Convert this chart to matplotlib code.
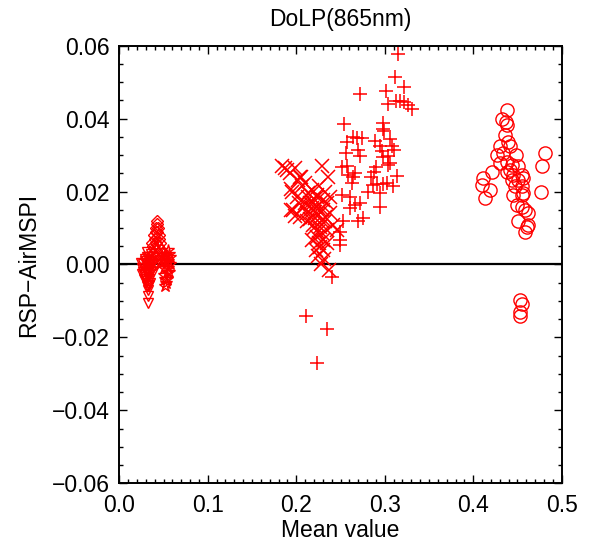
import numpy as np
import matplotlib.pyplot as plt
from matplotlib.ticker import MultipleLocator

plt.rcParams['font.family'] = ['Liberation Sans', 'DejaVu Sans']

# left cluster (low DoLP): triangles, diamonds, stars
tri_x = [0.027, 0.028, 0.029, 0.030, 0.031, 0.032, 0.033, 0.034, 0.035, 0.036,
         0.028, 0.030, 0.032, 0.034, 0.036, 0.029, 0.031, 0.033, 0.035, 0.030,
         0.032, 0.034, 0.033, 0.0327, 0.0327, 0.031, 0.033, 0.026, 0.027, 0.029,
         0.025, 0.026, 0.028, 0.030, 0.032, 0.034, 0.037, 0.038, 0.036, 0.031]
tri_y = [0.000, -0.001, 0.001, -0.002, 0.002, -0.003, 0.000, -0.004, -0.001, 0.001,
         -0.003, 0.000, -0.005, 0.002, -0.002, -0.004, -0.006, -0.002, -0.005, 0.001,
         0.002, -0.003, -0.007, -0.0086, -0.0105, -0.001, -0.006, -0.001, -0.002, 0.0015,
         0.0005, -0.0025, -0.004, -0.0045, -0.0015, -0.0055, 0.0, -0.002, 0.003, 0.0035]

dia_x = [0.036, 0.037, 0.038, 0.039, 0.040, 0.041, 0.042, 0.043, 0.044, 0.045,
         0.046, 0.047, 0.038, 0.040, 0.042, 0.044, 0.046, 0.039, 0.041, 0.043,
         0.045, 0.040, 0.042, 0.044, 0.043, 0.041, 0.037, 0.039, 0.048]
dia_y = [0.001, 0.003, 0.005, 0.002, 0.007, 0.004, 0.009, 0.012, 0.010, 0.008,
         0.006, 0.004, 0.000, 0.002, 0.006, 0.003, 0.001, 0.008, 0.010, 0.011,
         0.007, 0.000, 0.001, 0.005, 0.009, 0.006, 0.006, 0.0045, 0.002]

star_x = [0.050, 0.051, 0.052, 0.053, 0.054, 0.055, 0.056, 0.057, 0.050, 0.052,
          0.054, 0.056, 0.051, 0.053, 0.055, 0.052, 0.053, 0.054, 0.057, 0.055]
star_y = [0.002, -0.001, 0.003, 0.000, -0.002, 0.001, 0.003, 0.000, -0.003, -0.004,
          0.002, -0.002, 0.001, -0.005, -0.001, -0.006, 0.0025, -0.004, 0.002, 0.004]

# middle cluster: crosses (x) and plus signs
xs_x = [0.1872, 0.1985, 0.2287, 0.2362, 0.2042, 0.1948, 0.2098, 0.2174, 0.2230, 0.2305,
        0.2381, 0.1966, 0.2079, 0.2155, 0.2230, 0.2305, 0.2381, 0.2117, 0.2211, 0.2268,
        0.2343, 0.2418, 0.2230, 0.2305, 0.2174, 0.2268, 0.2456, 0.2324, 0.1929, 0.2023,
        0.2061, 0.2004, 0.2136, 0.2192, 0.2268, 0.2343, 0.2042, 0.2117, 0.2192, 0.2287,
        0.2262, 0.2305, 0.2241, 0.2317, 0.2283, 0.2369, 0.2219, 0.1941, 0.1984, 0.2027,
        0.1941, 0.1835, 0.1900, 0.2053,
        0.2150, 0.2180, 0.2210, 0.2250, 0.2200, 0.2240, 0.2160, 0.2330, 0.2290, 0.2130,
        0.2250, 0.2200, 0.2350, 0.2100, 0.2260, 0.2320]
xs_y = [0.0264, 0.0264, 0.0271, 0.0241, 0.0241, 0.0200, 0.0223, 0.0205, 0.0186, 0.0177,
        0.0186, 0.0150, 0.0159, 0.0141, 0.0159, 0.0150, 0.0141, 0.0118, 0.0127, 0.0104,
        0.0095, 0.0109, 0.0076, 0.0067, 0.0067, 0.0049, 0.0095, 0.0118, 0.0251, 0.0232,
        0.0214, 0.0186, 0.0186, 0.0168, 0.0150, 0.0168, 0.0131, 0.0141, 0.0109, 0.0086,
        0.0058, 0.0039, 0.0024, 0.0015, 0.0000, -0.0014, 0.0039, 0.0149, 0.0134, 0.0168,
        0.0206, 0.0270, 0.0259, 0.0240,
        0.0170, 0.0155, 0.0145, 0.0135, 0.0180, 0.0190, 0.0125, 0.0130, 0.0120, 0.0195,
        0.0090, 0.0100, 0.0060, 0.0170, 0.0215, 0.0200]

plus_x = [0.3155, 0.3115, 0.2720, 0.3013, 0.3217, 0.3033, 0.3132, 0.3172, 0.3217, 0.3265,
          0.3304, 0.2542, 0.2983, 0.2976, 0.2991, 0.2637, 0.2682, 0.2739, 0.2569, 0.2889,
          0.3059, 0.3078, 0.3104, 0.2562, 0.2701, 0.2720, 0.2946, 0.2965, 0.2976, 0.3040,
          0.3059, 0.3040, 0.2513, 0.2569, 0.2900, 0.2878, 0.2588, 0.2644, 0.2663, 0.2626,
          0.2841, 0.2870, 0.2908, 0.2983, 0.3021, 0.3096, 0.3134, 0.2814, 0.2946, 0.2513,
          0.2607, 0.2946, 0.2607, 0.2663, 0.2720, 0.2700, 0.2757, 0.2531, 0.2494, 0.2494,
          0.2494, 0.2403, 0.2110, 0.2343, 0.2230]
plus_y = [0.0578, 0.0513, 0.0468, 0.0477, 0.0487, 0.0441, 0.0447, 0.0447, 0.0445, 0.0438,
          0.0426, 0.0385, 0.0388, 0.0371, 0.0365, 0.0351, 0.0348, 0.0346, 0.0337, 0.0339,
          0.0344, 0.0324, 0.0315, 0.0307, 0.0315, 0.0298, 0.0326, 0.0310, 0.0296, 0.0298,
          0.0278, 0.0273, 0.0266, 0.0271, 0.0266, 0.0255, 0.0246, 0.0241, 0.0251, 0.0223,
          0.0241, 0.0218, 0.0221, 0.0221, 0.0223, 0.0214, 0.0243, 0.0200, 0.0196, 0.0191,
          0.0186, 0.0159, 0.0154, 0.0163, 0.0168, 0.0118, 0.0127, 0.0118, 0.0090, 0.0067,
          0.0054, -0.0035, -0.0142, -0.0177, -0.0270]

# right cluster: circles
circ_x = [0.4377, 0.4321, 0.4369, 0.4377, 0.4358, 0.4395, 0.4302, 0.4415, 0.4264, 0.4339,
          0.4483, 0.4302, 0.4377, 0.4434, 0.4509, 0.4377, 0.4415, 0.4452, 0.4547, 0.4208,
          0.4113, 0.4095, 0.4189, 0.4132, 0.4434, 0.4509, 0.4565, 0.4471, 0.4547, 0.4452,
          0.4547, 0.4565, 0.4490, 0.4547, 0.4584, 0.4622, 0.4509, 0.4603, 0.4622, 0.4584,
          0.4810, 0.4773, 0.4765, 0.4528, 0.4547, 0.4528, 0.4528]
circ_y = [0.0424, 0.0399, 0.0392, 0.0383, 0.0356, 0.0337, 0.0324, 0.0324, 0.0301, 0.0306,
          0.0301, 0.0278, 0.0282, 0.0273, 0.0271, 0.0255, 0.0260, 0.0246, 0.0246, 0.0255,
          0.0237, 0.0218, 0.0205, 0.0182, 0.0232, 0.0232, 0.0237, 0.0214, 0.0214, 0.0191,
          0.0191, 0.0196, 0.0163, 0.0159, 0.0150, 0.0141, 0.0118, 0.0104, 0.0109, 0.0090,
          0.0305, 0.0271, 0.0200, -0.0096, -0.0107, -0.0130, -0.0141]

x_ticks = [0.0, 0.1, 0.2, 0.3, 0.4, 0.5]
x_ticklabels = ['0.0', '0.1', '0.2', '0.3', '0.4', '0.5']
y_ticks = [-0.06, -0.04, -0.02, 0.0, 0.02, 0.04, 0.06]
y_ticklabels = ['\u22120.06', '\u22120.04', '\u22120.02', '0.00', '0.02', '0.04', '0.06']

fig = plt.figure(figsize=(5.94, 5.46), dpi=100)
ax = fig.add_axes([119.3 / 594, 62.7 / 546, 442.4 / 594, 437.6 / 546])

red = '#ff0000'
ax.axhline(0, color='black', lw=1.6, zorder=1)

ax.plot(tri_x, tri_y, 'v', ms=7, mfc='none', mec=red, mew=1.0, ls='none')
ax.plot(dia_x, dia_y, 'D', ms=6, mfc='none', mec=red, mew=1.0, ls='none')
ax.plot(star_x, star_y, '*', ms=9, mfc='none', mec=red, mew=1.0, ls='none')
ax.plot(xs_x, xs_y, 'x', ms=9.5, mec=red, mew=1.1, ls='none')
ax.plot(plus_x, plus_y, '+', ms=10, mec=red, mew=1.1, ls='none')
ax.plot(circ_x, circ_y, 'o', ms=9.5, mfc='none', mec=red, mew=1.0, ls='none')

ax.set_xlim(0, 0.5)
ax.set_ylim(-0.06, 0.06)
ax.set_xticks(x_ticks)
ax.set_xticklabels(x_ticklabels)
ax.set_yticks(y_ticks)
ax.set_yticklabels(y_ticklabels)
ax.xaxis.set_minor_locator(MultipleLocator(0.01))
ax.yaxis.set_minor_locator(MultipleLocator(0.005))
ax.tick_params(which='both', direction='in', top=True, right=True, labelsize=16.5)
ax.tick_params(which='major', length=6, width=1)
ax.tick_params(axis='x', which='major', pad=8)
ax.tick_params(axis='y', which='major', pad=7)
ax.tick_params(which='minor', length=3, width=1)
for s in ax.spines.values():
    s.set_linewidth(1.4)

ax.set_title('DoLP(865nm)', fontsize=16.5, pad=14)
ax.set_xlabel('Mean value', fontsize=16.5, labelpad=1)
ax.set_ylabel('RSP\u2212AirMSPI', fontsize=16.5, labelpad=8)

fig.savefig('out.png', dpi=100)
